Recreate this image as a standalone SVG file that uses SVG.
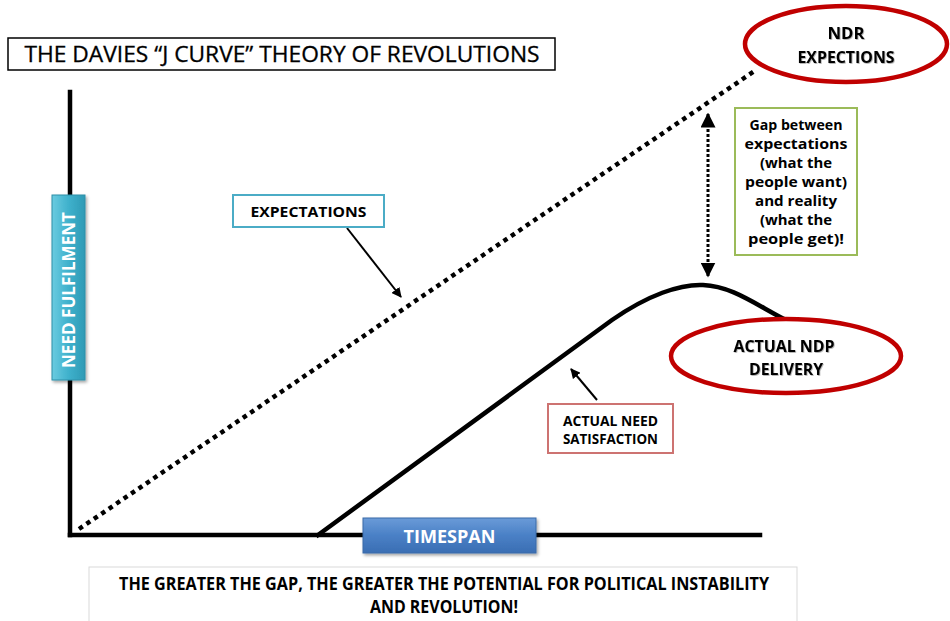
<svg xmlns="http://www.w3.org/2000/svg" width="950" height="621" viewBox="0 0 950 621">
<defs>
<style>
text{font-family:"Open Sans","Liberation Sans",sans-serif;fill:#000;text-anchor:middle}
.b{font-weight:bold}
.w{fill:#fff;font-weight:bold}
.axis{stroke:#000;stroke-width:4.5;fill:none;stroke-linecap:square}
.dots{stroke:#000;stroke-width:4.5;fill:none;stroke-dasharray:4.5 4.5;stroke-linecap:butt}
.thin{stroke:#000;stroke-width:2;fill:none}
.oval{fill:#fff;stroke:#C00000;stroke-width:4.5}
</style>
<linearGradient id="teal" x1="0" y1="0" x2="1" y2="0">
<stop offset="0" stop-color="#6ACBE0"/><stop offset="0.5" stop-color="#3FB1CC"/><stop offset="1" stop-color="#2E9AB5"/>
</linearGradient>
<linearGradient id="blue" x1="0" y1="0" x2="0" y2="1">
<stop offset="0" stop-color="#6A9BD8"/><stop offset="0.5" stop-color="#4A80C6"/><stop offset="1" stop-color="#3A6EB3"/>
</linearGradient>
<filter id="sh" x="-10%" y="-10%" width="130%" height="140%">
<feDropShadow dx="1.5" dy="2" stdDeviation="1.5" flood-color="#000" flood-opacity="0.35"/>
</filter>
<filter id="ts" x="-5%" y="-20%" width="110%" height="150%">
<feDropShadow dx="0.8" dy="0.8" stdDeviation="0.6" flood-color="#000" flood-opacity="0.35"/>
</filter>
<marker id="ah" viewBox="0 0 10 10" refX="9" refY="5" markerWidth="5" markerHeight="5" orient="auto-start-reverse">
<path d="M0,0 L10,5 L0,10 z" fill="#000"/>
</marker>
</defs>
<rect width="950" height="621" fill="#fff"/>

<g id="title">
<rect x="8" y="38" width="547" height="32" fill="#fff" stroke="#000" stroke-width="1.5"/>
<text x="282" y="62" font-size="21.5" textLength="515" lengthAdjust="spacingAndGlyphs" stroke="#000" stroke-width="0.3">THE DAVIES “J CURVE” THEORY OF REVOLUTIONS</text>
</g>

<g id="connectors">
<line class="axis" x1="70" y1="92" x2="70" y2="535"/>
<line class="axis" x1="70" y1="535" x2="760" y2="535"/>
<line class="dots" x1="79" y1="529" x2="756" y2="70"/>
<path class="axis" d="M318,535 L612,320 C648,295 680,284 703,285 C730,286 752,302 782,318" stroke-linecap="butt"/>
<line x1="708" y1="114" x2="708" y2="276" stroke="#000" stroke-width="3" stroke-dasharray="3 2" marker-start="url(#ah)" marker-end="url(#ah)"/>
<line class="thin" x1="347" y1="228" x2="401" y2="297" marker-end="url(#ah)"/>
<line class="thin" x1="597" y1="400" x2="571" y2="369" marker-end="url(#ah)"/>
</g>

<g id="need-fulfilment">
<rect x="52" y="195" width="33" height="185" fill="url(#teal)" stroke="#2E8FA8" stroke-width="1" filter="url(#sh)"/>
<text class="w" transform="translate(75,290) rotate(-90)" font-size="18" textLength="156" lengthAdjust="spacingAndGlyphs">NEED FULFILMENT</text>
</g>

<g id="timespan">
<rect x="363" y="518" width="173" height="35" fill="url(#blue)" stroke="#3A6AA8" stroke-width="1" filter="url(#sh)"/>
<text class="w" x="449.5" y="543" font-size="18" textLength="92" lengthAdjust="spacingAndGlyphs">TIMESPAN</text>
</g>

<g id="expectations">
<rect x="233" y="195" width="151" height="32" fill="#fff" stroke="#4BACC6" stroke-width="2"/>
<text class="b" x="308.5" y="217" font-size="14.5" textLength="116" lengthAdjust="spacingAndGlyphs">EXPECTATIONS</text>
</g>

<g id="gap">
<rect x="735" y="108" width="122" height="147" fill="#fff" stroke="#9BBB59" stroke-width="2"/>
<text class="b" x="796" y="130" font-size="15" textLength="93" lengthAdjust="spacingAndGlyphs">Gap between</text>
<text class="b" x="796" y="149" font-size="15" textLength="103" lengthAdjust="spacingAndGlyphs">expectations</text>
<text class="b" x="796" y="168" font-size="15" textLength="72" lengthAdjust="spacingAndGlyphs">(what the</text>
<text class="b" x="796" y="187" font-size="15" textLength="102" lengthAdjust="spacingAndGlyphs">people want)</text>
<text class="b" x="796" y="206" font-size="15" textLength="82" lengthAdjust="spacingAndGlyphs">and reality</text>
<text class="b" x="796" y="225" font-size="15" textLength="72" lengthAdjust="spacingAndGlyphs">(what the</text>
<text class="b" x="796" y="244" font-size="15" textLength="96" lengthAdjust="spacingAndGlyphs">people get)!</text>
</g>

<g id="ndr-expections">
<ellipse class="oval" cx="846" cy="44" rx="101" ry="38"/>
<text class="b" x="846" y="39" font-size="16.5" filter="url(#ts)" textLength="37" lengthAdjust="spacingAndGlyphs">NDR</text>
<text class="b" x="846" y="63" font-size="16.5" filter="url(#ts)" textLength="97" lengthAdjust="spacingAndGlyphs">EXPECTIONS</text>
</g>

<g id="actual-ndp">
<ellipse class="oval" cx="786" cy="356" rx="115" ry="37"/>
<text class="b" x="784" y="352" font-size="16.5" filter="url(#ts)" textLength="101" lengthAdjust="spacingAndGlyphs">ACTUAL NDP</text>
<text class="b" x="786" y="375" font-size="16.5" filter="url(#ts)" textLength="74" lengthAdjust="spacingAndGlyphs">DELIVERY</text>
</g>

<g id="actual-need">
<rect x="548" y="404" width="125" height="49" fill="#fff" stroke="#C0504D" stroke-opacity="0.8" stroke-width="2"/>
<text class="b" x="610.5" y="426" font-size="14" textLength="95" lengthAdjust="spacingAndGlyphs">ACTUAL NEED</text>
<text class="b" x="610.5" y="444" font-size="14" textLength="95" lengthAdjust="spacingAndGlyphs">SATISFACTION</text>
</g>

<g id="conclusion">
<rect x="89" y="567" width="708" height="60" fill="#fff" stroke="#d9d9d9" stroke-width="1"/>
<text class="b" x="444" y="590" font-size="17" textLength="650" lengthAdjust="spacingAndGlyphs">THE GREATER THE GAP, THE GREATER THE POTENTIAL FOR POLITICAL INSTABILITY</text>
<text class="b" x="444" y="613" font-size="17" textLength="148" lengthAdjust="spacingAndGlyphs">AND REVOLUTION!</text>
</g>
</svg>
